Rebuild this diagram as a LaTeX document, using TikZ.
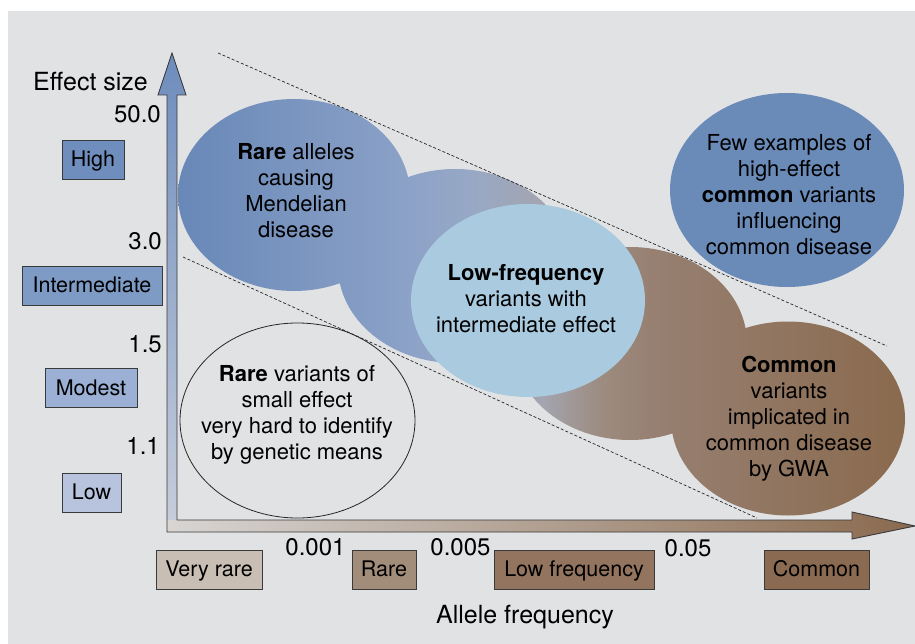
\documentclass[tikz,border=0pt]{standalone}
\usepackage{fontspec}
\setmainfont{TeX Gyre Heros}
\usetikzlibrary{positioning}

\definecolor{bggray}{HTML}{E1E2E4}
\definecolor{edgegray}{HTML}{3A3A3A}
\definecolor{axisblue}{HTML}{6D8CBC}
\definecolor{axislight}{HTML}{C6CDDB}
\definecolor{axispale}{HTML}{D8D5D3}
\definecolor{axismid}{HTML}{AB9585}
\definecolor{axisbrown}{HTML}{8A6A4F}
\definecolor{blobA}{HTML}{6888B8}
\definecolor{blobB}{HTML}{8CA2C7}
\definecolor{blobC}{HTML}{97A8C6}
\definecolor{blobD}{HTML}{A3A5B0}
\definecolor{blobE}{HTML}{9D8C80}
\definecolor{blobF}{HTML}{978072}
\definecolor{blobG}{HTML}{8A6A4E}
\definecolor{lowfreqblue}{HTML}{A9CADF}
\definecolor{fewblue}{HTML}{6A8AB8}
\definecolor{highfill}{HTML}{6F8EBD}
\definecolor{interfill}{HTML}{7E9BC6}
\definecolor{modestfill}{HTML}{9BB0D4}
\definecolor{lowfill}{HTML}{B8C4DD}
\definecolor{vrarefill}{HTML}{C9BEB4}
\definecolor{rarefill}{HTML}{A28C7A}
\definecolor{lfreqfill}{HTML}{93755F}
\definecolor{commonfill}{HTML}{8A6A51}

% blue to brown across the chain of ellipses
\pgfdeclarehorizontalshading{blobfade}{100bp}{color(0bp)=(blobA); color(25bp)=(blobA);
  color(41bp)=(blobB); color(45bp)=(blobC); color(50bp)=(blobD); color(54bp)=(blobE);
  color(57.5bp)=(blobF); color(75bp)=(blobG); color(100bp)=(blobG)}

\tikzset{
  lvlbox/.style={draw=edgegray, line width=0.9pt, minimum height=39pt, inner sep=0pt,
    text height=15.5pt, text depth=1.5pt, font=\fontsize{21.5}{24}\selectfont},
  ticklbl/.style={anchor=east, inner sep=0pt, font=\fontsize{24}{28}\selectfont},
  freqlbl/.style={inner sep=0pt, font=\fontsize{24}{28}\selectfont},
  axislbl/.style={inner sep=0pt, font=\fontsize{25}{30}\selectfont},
  blobtxt/.style={align=center, inner sep=0pt, font=\fontsize{22}{26}\selectfont},
  guide/.style={dashed, dash pattern=on 3pt off 2pt, line width=0.7pt, black!85},
}

\begin{document}
\begin{tikzpicture}[x=1pt,y=-1pt]
  \useasboundingbox (0,0) rectangle (915,644);
  \fill[bggray] (8,11) rectangle (915,644);

  % chain of ellipses, one shading
  \shade[shading=blobfade]
    (294,195) ellipse [x radius=116pt, y radius=96pt]
    (455,266) ellipse [x radius=117pt, y radius=97pt]
    (630,343.5) ellipse [x radius=117pt, y radius=96.5pt]
    (788,418.5) ellipse [x radius=117pt, y radius=97pt];
  \fill[lowfreqblue] (528,300.5) ellipse [x radius=117pt, y radius=96.5pt];
  \fill[fewblue] (787,190) ellipse [x radius=117pt, y radius=97pt];
  \draw[line width=0.8pt, black!85] (297.5,420.5) ellipse [x radius=117.5pt, y radius=97.5pt];

  \coordinate (upA) at (218,53);
  \coordinate (upB) at (887,346);
  \coordinate (loA) at (183,257);
  \coordinate (loB) at (757,518);
  \draw[guide] (upA) -- (upB);
  \draw[guide] (loA) -- (loB);

  % axes
  \shade[top color=axisblue, bottom color=axislight]
    (167,520) -- (167,95) -- (158,95) -- (172,53) -- (186,95) -- (177,95) -- (177,520) -- cycle;
  \shade[left color=axispale, middle color=axismid, right color=axisbrown]
    (167,520) -- (852,520) -- (852,512) -- (915,526) -- (852,539) -- (852,532) -- (167,532) -- cycle;
  \draw[edgegray, line width=0.9pt, line join=miter]
    (167,532) -- (167,95) -- (158,95) -- (172,53) -- (186,95) -- (177,95) -- (177,520)
    -- (852,520) -- (852,512) -- (915,526) -- (852,539) -- (852,532) -- cycle;

  \node[axislbl] (effsize) at (90.5,81.5) {Effect size};
  \node[ticklbl] (t500) at (161,114) {50.0};
  \node[ticklbl] (t30) at (162,241) {3.0};
  \node[ticklbl] (t15) at (162,344) {1.5};
  \node[ticklbl] (t11) at (160,445.5) {1.1};

  \node[lvlbox, fill=highfill, minimum width=62pt] (high) at (93,160) {High};
  \node[lvlbox, fill=interfill, minimum width=140pt] (inter) at (92,285.5) {Intermediate};
  \node[lvlbox, fill=modestfill, minimum width=92pt] (modest) at (91,388) {Modest};
  \node[lvlbox, fill=lowfill, minimum width=59pt] (low) at (91.5,492.5) {Low};

  \node[lvlbox, fill=vrarefill, minimum width=106pt] (vrare) at (209,569.5) {Very rare};
  \node[freqlbl] (f001) at (315.5,547) {0.001};
  \node[lvlbox, fill=rarefill, minimum width=64pt] (rare) at (384,569.5) {Rare};
  \node[freqlbl] (f005) at (460.5,547) {0.005};
  \node[lvlbox, fill=lfreqfill, minimum width=160pt] (lfreq) at (574,569.5) {Low frequency};
  \node[freqlbl] (f05) at (688,548) {0.05};
  \node[lvlbox, fill=commonfill, minimum width=105pt] (common) at (816.5,569.5) {Common};
  \node[axislbl] (allfreq) at (525,617) {Allele frequency};

  \node[blobtxt] (mendel) at (296,191) {\textbf{Rare} alleles\\causing\\Mendelian\\disease};
  \node[blobtxt] (lowfx) at (526,298.5) {\textbf{Low-frequency}\\variants with\\intermediate effect};
  \node[blobtxt] (fewex) at (789,194.5) {Few examples of\\high-effect\\\textbf{common} variants\\influencing\\common disease};
  \node[blobtxt] (gwa) at (789,419) {\textbf{Common}\\variants\\implicated in\\common disease\\by GWA};
  \node[blobtxt] (smallfx) at (297,415) {\textbf{Rare} variants of\\small effect\\very hard to identify\\by genetic means};
\end{tikzpicture}
\end{document}
